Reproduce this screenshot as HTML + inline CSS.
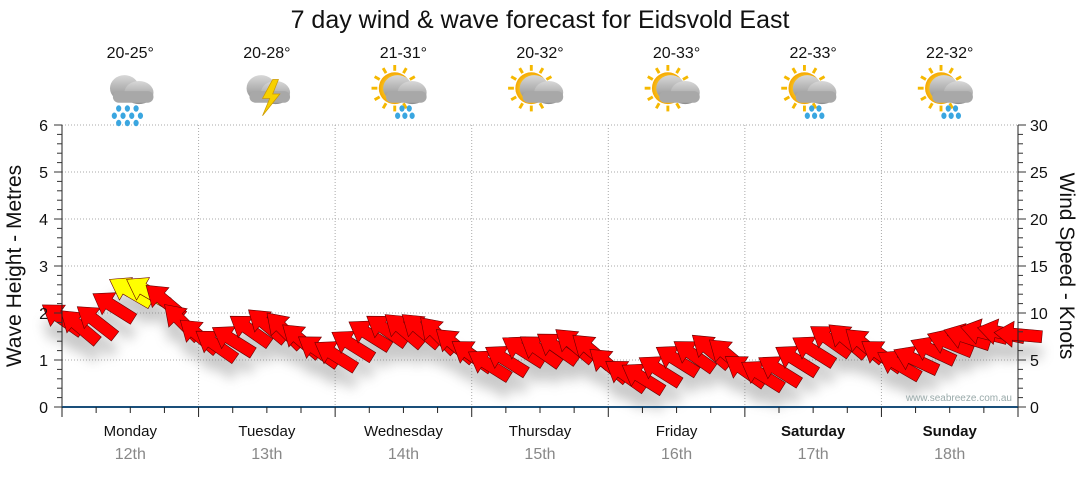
<!DOCTYPE html>
<html><head><meta charset="utf-8"><style>
body{margin:0;background:#fff;font-family:"Liberation Sans",sans-serif}
svg text{font-family:"Liberation Sans",sans-serif}
</style></head><body>
<svg id="c" width="1080" height="475" viewBox="0 0 1080 475">
<defs><filter id="blur" x="-20%" y="-50%" width="140%" height="200%"><feGaussianBlur stdDeviation="6"/></filter>
<radialGradient id="sun"><stop offset="0" stop-color="#fff36a"/><stop offset="1" stop-color="#f5a800"/></radialGradient>
<linearGradient id="cloud" x1="0" y1="0" x2="0" y2="1"><stop offset="0" stop-color="#d8d8d8"/><stop offset="1" stop-color="#8d8d8d"/></linearGradient></defs>
<text x="540" y="28" font-size="25" text-anchor="middle" fill="#111">7 day wind &amp; wave forecast for Eidsvold East</text>
<g id="grid"></g><g id="shadow" filter="url(#blur)" opacity="0.4"></g><g id="arrows"></g><g id="axes"></g><g id="top"></g>
<text x="1012" y="401" font-size="10" fill="#9aa" text-anchor="end">www.seabreeze.com.au</text>
</svg>
<script>
const days=["Monday","Tuesday","Wednesday","Thursday","Friday","Saturday","Sunday"];
const dates=["12th","13th","14th","15th","16th","17th","18th"];
const temps=["20-25°","20-28°","21-31°","20-32°","20-33°","22-33°","22-32°"];
const icons=["rain","storm","sunshower","suncloud","suncloud","sunshower","sunshower"];
const leftTicks=[0,1,2,3,4,5,6];
const rightTicks=[0,5,10,15,20,25,30];
const windKnots=[9.4,8.6,9.1,10.7,12.3,12.3,11.3,9.1,7.6,6.6,7.1,8.2,8.7,8.2,7.1,6.0,5.5,6.6,7.7,8.2,8.2,8.2,7.7,6.6,5.5,4.5,5.0,6.0,6.0,6.3,6.6,6.0,4.5,3.4,3.1,3.9,5.0,5.5,6.0,5.5,3.9,3.4,3.9,5.0,6.0,7.1,7.1,6.6,5.5,4.5,5.0,6.0,6.8,7.4,7.9,7.9,7.7];
const windDir=[125,130,128,122,120,120,130,135,130,125,122,125,130,135,130,125,122,122,122,125,130,130,135,130,125,122,122,122,125,125,130,130,130,125,122,122,122,125,130,130,125,122,122,122,122,125,130,130,125,120,115,115,112,108,104,102,95];
const NS="http://www.w3.org/2000/svg";
const X0=62,X1=1018,Y0=407,Y1=125;
const xs=i=>X0+(X1-X0)*i/56;
const yl=v=>Y0-(Y0-Y1)*v/6;
const yr=v=>Y0-(Y0-Y1)*v/30;
function el(t,a,p){const e=document.createElementNS(NS,t);for(const k in a)e.setAttribute(k,a[k]);document.getElementById(p).appendChild(e);return e;}
leftTicks.forEach(v=>{if(v>0){const g=el('line',{x1:X0,x2:X1,y1:yl(v),y2:yl(v),stroke:'#aaa','stroke-dasharray':'1,2'},'grid');

}});
for(let d=1;d<7;d++){const g=el('line',{x1:xs(d*8),x2:xs(d*8),y1:Y1,y2:Y0,stroke:'#aaa','stroke-dasharray':'1,2'},'grid');

}
el('line',{x1:X0,x2:X0,y1:Y1,y2:Y0,stroke:'#222'},'axes');
el('line',{x1:X1,x2:X1,y1:Y1,y2:Y0,stroke:'#222'},'axes');
el('line',{x1:X0,x2:X1,y1:Y0,y2:Y0,stroke:'#1a4f7a','stroke-width':2},'axes');
for(let i=0;i<=30;i++){const y=yr(i);const maj=i%5==0;
el('line',{x1:X0-(maj?8:5),x2:X0,y1:y,y2:y,stroke:'#333'},'axes');
el('line',{x1:X1,x2:X1+(maj?8:5),y1:y,y2:y,stroke:'#333'},'axes');}
leftTicks.forEach(v=>{const t=el('text',{x:48,y:yl(v)+6,'font-size':16,'text-anchor':'end',fill:'#111'},'axes');t.textContent=v;

});
rightTicks.forEach(v=>{const t=el('text',{x:1030,y:yr(v)+6,'font-size':16,fill:'#111'},'axes');t.textContent=v;

});
let t=el('text',{x:0,y:0,'font-size':21,'text-anchor':'middle',transform:'translate(21,266) rotate(-90)',fill:'#111'},'axes');t.textContent='Wave Height - Metres';


t=el('text',{x:0,y:0,'font-size':21,'text-anchor':'middle',transform:'translate(1060,266) rotate(90)',fill:'#111'},'axes');t.textContent='Wind Speed - Knots';


for(let i=0;i<=28;i++){const x=xs(i*2);el('line',{x1:x,x2:x,y1:Y0,y2:Y0+(i%4==0?10:6),stroke:'#222'},'axes');}
days.forEach((d,i)=>{const cx=(xs(i*8)+xs(i*8+8))/2;
let a=el('text',{x:cx,y:436,'font-size':15,'text-anchor':'middle',fill:'#111','font-weight':i>=5?'bold':'normal'},'axes');a.textContent=d;


a=el('text',{x:cx,y:459,'font-size':16,'text-anchor':'middle',fill:'#888'},'axes');a.textContent=dates[i];


a=el('text',{x:cx,y:58,'font-size':16,'text-anchor':'middle',fill:'#111'},'top');a.textContent=temps[i];


const g=el('g',{transform:`translate(${cx},94) scale(1.45)`},'top');


const ic=icons[i];
const add=(tg,at)=>{const e=document.createElementNS(NS,tg);for(const k in at)e.setAttribute(k,at[k]);g.appendChild(e);};
if(ic!='rain'&&ic!='storm'){for(let k=0;k<12;k++){const an=k*Math.PI/6;add('line',{x1:-6+Math.cos(an)*12,y1:-4+Math.sin(an)*12,x2:-6+Math.cos(an)*16,y2:-4+Math.sin(an)*16,stroke:'#f5b800','stroke-width':2});}
add('circle',{cx:-6,cy:-4,r:11,fill:'url(#sun)'});}
add('ellipse',{cx:-4,cy:-4,rx:10,ry:9,fill:'url(#cloud)'});
add('ellipse',{cx:6,cy:-1,rx:10,ry:8,fill:'url(#cloud)'});
add('rect',{x:-12,y:-2,width:28,height:8,rx:4,fill:'#a8a8a8'});
if(ic=='storm')add('polygon',{points:'4,-10 -3,3 2,3 -3,15 9,0 4,0 8,-10',fill:'#f7d000',stroke:'#c90','stroke-width':0.5});
if(ic=='rain'||ic=='sunshower'){const pts=ic=='rain'?[[-8,10],[-2,10],[4,10],[-11,15],[-5,15],[1,15],[7,15],[-8,20],[-2,20],[4,20]]:[[-1,10],[4,10],[-4,15],[1,15],[6,15]];
pts.forEach(p=>add('ellipse',{cx:p[0],cy:p[1],rx:1.8,ry:2.2,fill:'#3aa6e0'}));}
});
const arrowPts="-24,0 -5,-13 -5,-6 24,-6 24,6 -5,6 -5,13";
windKnots.forEach((v,i)=>{const x=xs(i),y=yr(v);
const s=el('polygon',{points:arrowPts,fill:'#777',transform:`translate(${x},${y+16}) rotate(${windDir[i]-90})`},'shadow');
const p=el('polygon',{points:arrowPts,fill:v>=12?'#ffff00':'#ff0000',stroke:'#600','stroke-width':0.6,transform:`translate(${x},${y}) rotate(${windDir[i]-90})`},'arrows');


});
</script>
</body></html>
